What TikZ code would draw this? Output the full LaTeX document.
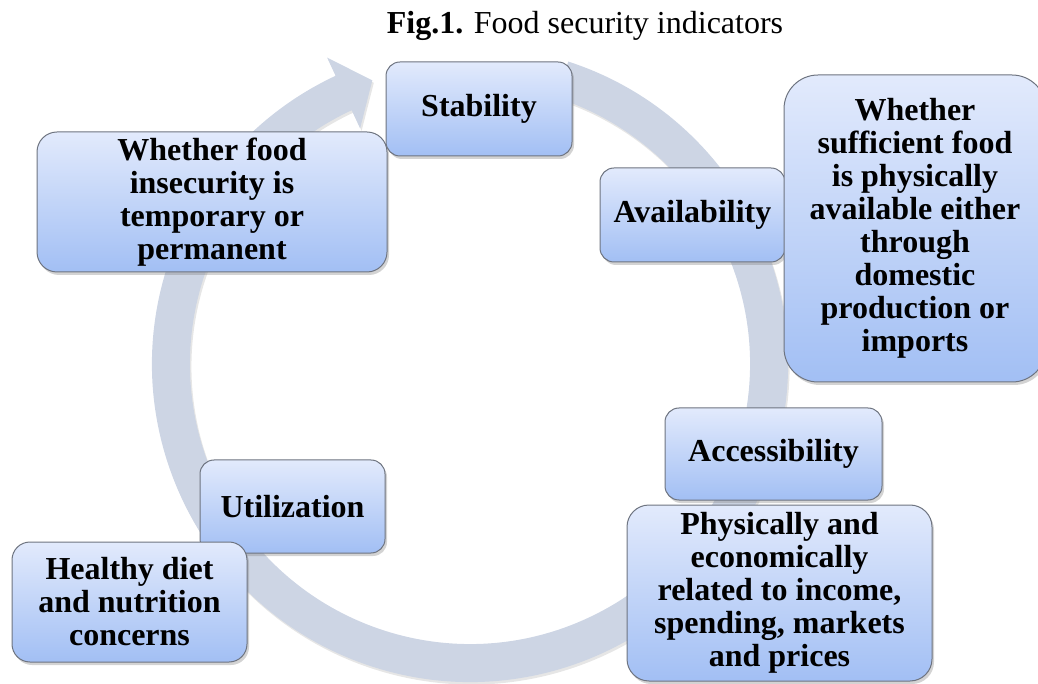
\documentclass[tikz,border=0pt]{standalone}
\usepackage{fontspec}
\setmainfont{Liberation Serif}
\usetikzlibrary{calc, shadows}

\definecolor{ringgray}{HTML}{CDD5E4}
\definecolor{boxtop}{HTML}{E2EAFC}
\definecolor{boxbot}{HTML}{A2BFF4}
\definecolor{boxline}{HTML}{6E7480}

\begin{document}
\begin{tikzpicture}[
        x=1pt, y=1pt,
        font=\fontsize{32}{33}\selectfont,
        box/.style={
            draw=boxline,
            line width=1pt,
            rounded corners=14pt,
            top color=boxtop,
            bottom color=boxbot,
            align=center,
            inner sep=2pt,
            font=\fontsize{32}{33}\selectfont\bfseries,
            drop shadow={opacity=0.35, shadow xshift=2pt, shadow yshift=-3pt}
        },
        ring/.style={
            fill=ringgray,
            drop shadow={opacity=0.2, shadow xshift=1.5pt, shadow yshift=-2.5pt}
        }
    ]

    \useasboundingbox (0,0) rectangle (1038,683);

    % Title
    \node (title) at (585,657) {\textbf{Fig.1.} Food security indicators};

    % Circular arrow
    \coordinate (c) at (470,319);
    \fill[ring] ($(c)+(72:318)$) arc[start angle=72, end angle=-245, radius=318pt]
        -- ($(c)+(-245:338)$) -- ($(c)+(-251:300)$) -- ($(c)+(-245:260)$)
        -- ($(c)+(-245:280)$) arc[start angle=-245, end angle=72, radius=280pt]
        -- cycle;

    % Indicators
    \node[box, minimum width=186, minimum height=94] (stab) at (479,574) {Stability};

    \node[box, minimum width=350, minimum height=140, rounded corners=20pt] (stabtxt) at (212,481) {
        Whether food\\
        insecurity is\\
        temporary or\\
        permanent
    };

    \node[box, minimum width=185, minimum height=94] (avail) at (692.5,468) {Availability};

    \node[box, minimum width=262, minimum height=307, rounded corners=34pt] (availtxt) at (915,454.5) {
        Whether\\
        sufficient food\\
        is physically\\
        available either\\
        through\\
        domestic\\
        production or\\
        imports
    };

    \node[box, minimum width=217, minimum height=92] (access) at (773.5,229) {Accessibility};

    \node[box, minimum width=305, minimum height=176, rounded corners=22pt] (accesstxt) at (779.5,90) {
        Physically and\\
        economically\\
        related to income,\\
        spending, markets\\
        and prices
    };

    \node[box, minimum width=185, minimum height=93] (util) at (292.5,176.5) {Utilization};

    \node[box, minimum width=235, minimum height=120, rounded corners=18pt] (utiltxt) at (129.5,81) {
        Healthy diet\\
        and nutrition\\
        concerns
    };

\end{tikzpicture}
\end{document}
